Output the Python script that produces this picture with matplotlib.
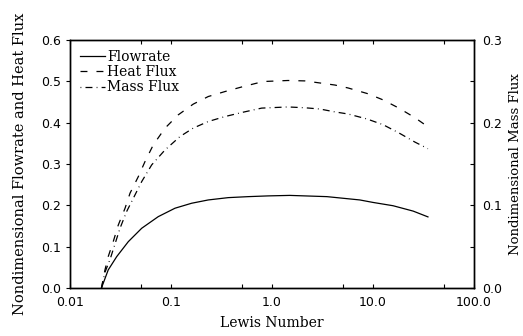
import matplotlib
matplotlib.use("Agg")
import matplotlib.pyplot as plt
from matplotlib.ticker import FixedLocator, NullFormatter

plt.rcParams["lines.scale_dashes"] = False

SERIF = "DejaVu Serif"
SANS = "DejaVu Sans"

# ── data ─────────────────────────────────────────────────────────────────────
le_flow = [0.0205, 0.0239, 0.029, 0.0378, 0.0513, 0.0748, 0.1096, 0.16,
           0.234, 0.369, 0.582, 0.918, 1.5, 3.5, 7.4, 10.0, 15.8, 25.0, 35.0]
flowrate = [0.0, 0.0436, 0.0758, 0.1121, 0.1445, 0.1726, 0.193, 0.205,
            0.213, 0.2186, 0.221, 0.2228, 0.224, 0.221, 0.213, 0.207,
            0.199, 0.186, 0.172]

le_heat = [0.0205, 0.0222, 0.0239, 0.0268, 0.0301, 0.0351, 0.0393, 0.0475,
           0.0553, 0.0668, 0.0873, 0.118, 0.166, 0.234, 0.343, 0.52, 0.82,
           1.44, 2.12, 2.98, 4.2, 5.65, 8.9, 12.6, 18.1, 26.0, 35.0]
heat_flux = [0.0, 0.0436, 0.0758, 0.1121, 0.1525, 0.193, 0.2293, 0.2695,
             0.3058, 0.3462, 0.3867, 0.4189, 0.4448, 0.4632, 0.4753, 0.4874,
             0.4995, 0.502, 0.501, 0.496, 0.491, 0.484, 0.470, 0.455, 0.435,
             0.412, 0.390]

le_mass = [0.0205, 0.0222, 0.025, 0.0313, 0.0364, 0.0424, 0.0513, 0.0644,
           0.0873, 0.1228, 0.166, 0.234, 0.343, 0.52, 0.791, 1.44, 2.12,
           2.98, 4.2, 5.65, 8.7, 12.6, 18.1, 26.0, 35.0]
mass_flux = [0.0, 0.019, 0.035, 0.0723, 0.0925, 0.1086, 0.1287, 0.1489,
             0.167, 0.1832, 0.1934, 0.2014, 0.2074, 0.2127, 0.2176, 0.219,
             0.218, 0.2165, 0.213, 0.2105, 0.2045, 0.1975, 0.1875, 0.1765,
             0.1685]

x_major = [0.01, 0.1, 1.0, 10.0, 100.0]
x_minor = [0.05, 0.5, 5.0, 50.0]
x_labels = ["0.01", "0.1", "1.0", "10.0", "100.0"]
y_left = [0.0, 0.1, 0.2, 0.3, 0.4, 0.5, 0.6]
y_right = [0.0, 0.1, 0.2, 0.3]
y_right_minor = [0.05, 0.15, 0.25]

# ── figure ───────────────────────────────────────────────────────────────────
fig = plt.figure(figsize=(5.23, 3.36), dpi=100)
ax = fig.add_axes([0.1338, 0.1429, 0.7725, 0.7381])
ax2 = ax.twinx()

lw = 0.9
ax.plot(le_flow, flowrate, color="black", lw=lw, label="Flowrate")
ax.plot(le_heat, heat_flux, color="black", lw=lw, ls=(0, (5, 6.5)),
        label="Heat Flux")
ax2.plot(le_mass, mass_flux, color="black", lw=lw, ls=(0, (5, 3, 0.6, 3)))
ax.plot([], [], color="black", lw=lw, ls=(0, (0.6, 3, 5, 3)), label="Mass Flux")

ax.set_xscale("log")
ax.set_xlim(0.01, 100)
ax.set_ylim(0, 0.6)
ax2.set_ylim(0, 0.3)

ax.xaxis.set_major_locator(FixedLocator(x_major))
ax.xaxis.set_minor_locator(FixedLocator(x_minor))
ax.xaxis.set_minor_formatter(NullFormatter())
ax.set_xticklabels(x_labels)
ax.set_yticks(y_left)
ax.set_yticklabels([f"{v:.1f}" for v in y_left])
ax2.set_yticks(y_right)
ax2.set_yticks(y_right_minor, minor=True)
ax2.set_yticklabels([f"{v:.1f}" for v in y_right])

ax.tick_params(axis="x", which="both", direction="in", top=True,
               length=3, width=0.8, pad=6)
ax.tick_params(axis="y", which="both", direction="out", length=3, width=0.8)
ax2.tick_params(axis="y", which="both", direction="in", length=3, width=0.8,
                pad=6)

for a in (ax, ax2):
    for lab in a.get_xticklabels() + a.get_yticklabels():
        lab.set_family(SANS)
        lab.set_fontsize(9)
    for s in a.spines.values():
        s.set_linewidth(1.0)

ax.set_xlabel("Lewis Number", family=SERIF, fontsize=10, labelpad=5)
ax.set_ylabel("Nondimensional Flowrate and Heat Flux", family=SERIF,
              fontsize=10.5, labelpad=10)
ax2.set_ylabel("Nondimensional Mass Flux", family=SERIF, fontsize=9.5,
               labelpad=5)

leg = ax.legend(loc="upper left", frameon=False, prop={"family": SERIF,
                "size": 10}, handlelength=1.8, handletextpad=0.2,
                labelspacing=0.1, borderaxespad=0.3)

fig.savefig("out.png", dpi=100, facecolor="white")
